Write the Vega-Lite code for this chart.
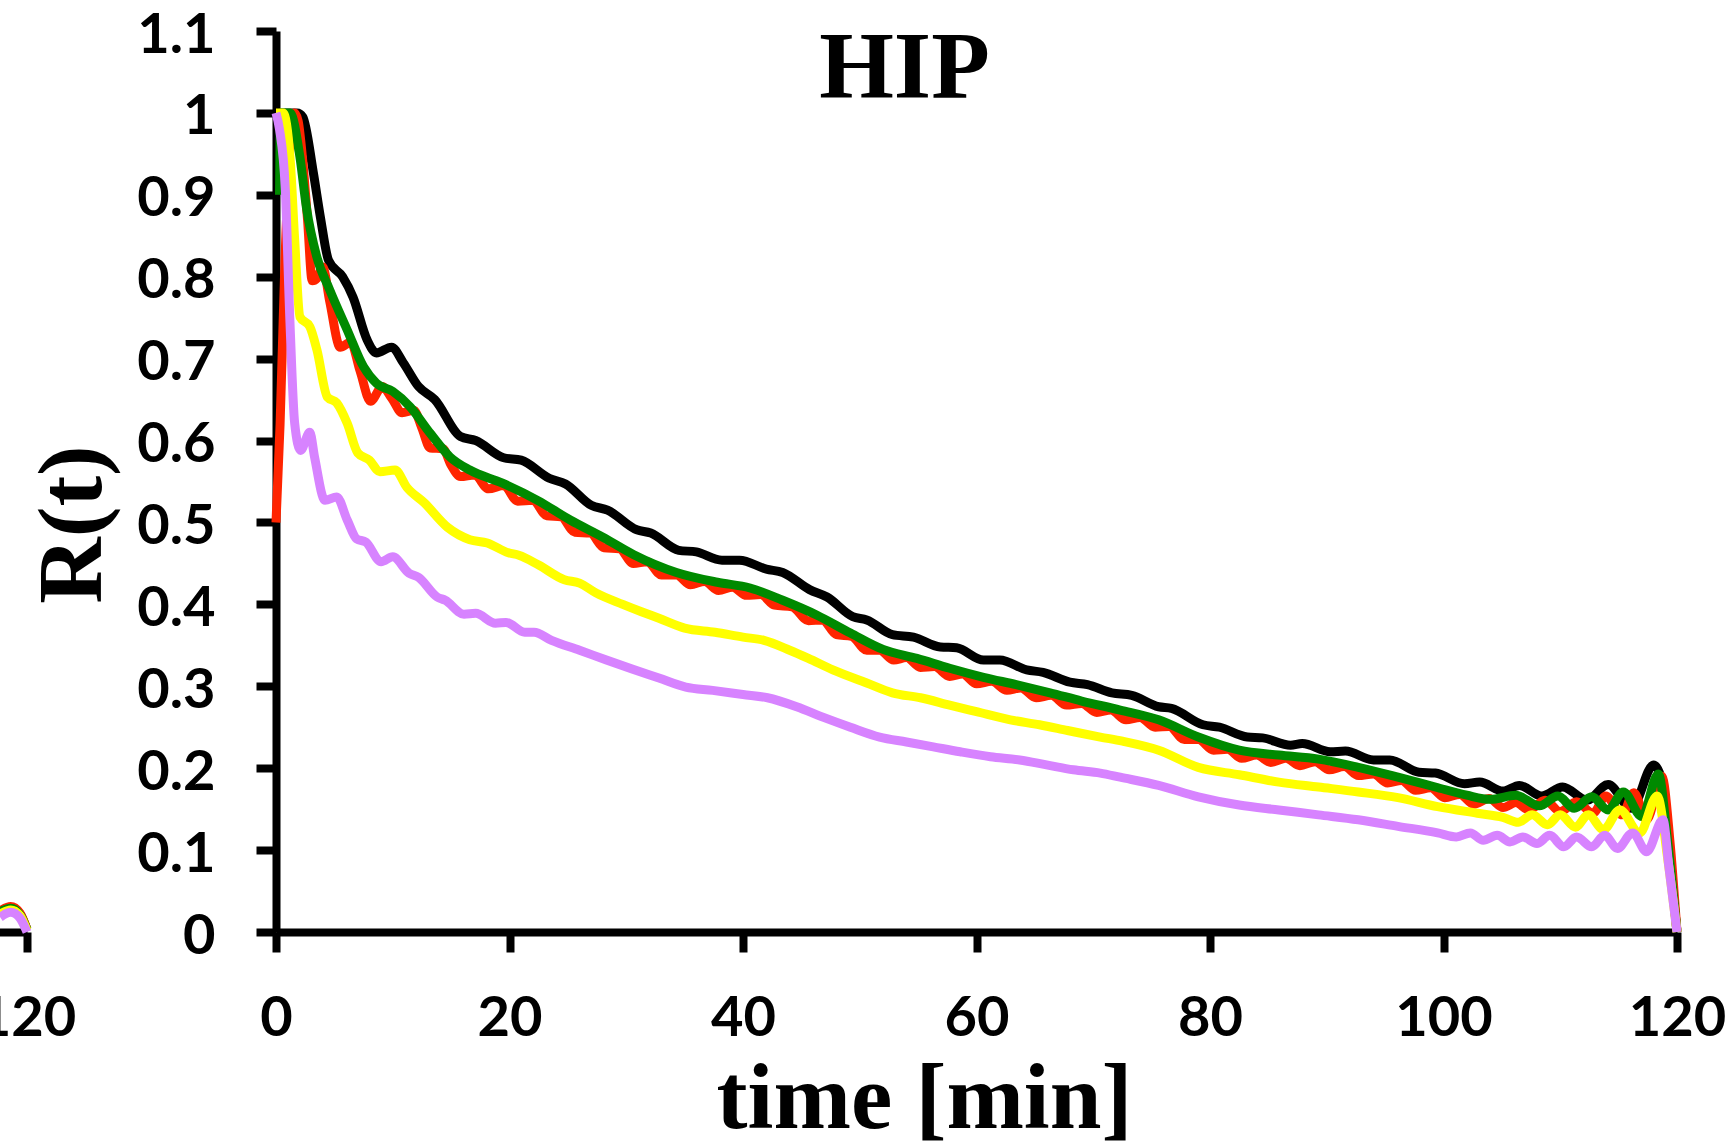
{
  "$schema": "https://vega.github.io/schema/vega-lite/v6.json",
  "width": 1401,
  "height": 901,
  "autosize": {"type": "none"},
  "padding": {"left": 276, "top": 31, "right": 56, "bottom": 215},
  "background": "white",
  "config": {"view": {"stroke": null}},
  "datasets": {
    "main": [
      {"s":"k","t":0,"r":1.0},{"s":"k","t":1.8,"r":1.0},{"s":"k","t":2.3,"r":0.995},{"s":"k","t":3.2,"r":0.927},{"s":"k","t":3.8,"r":0.873},{"s":"k","t":4.5,"r":0.82},{"s":"k","t":5.7,"r":0.8},{"s":"k","t":6.6,"r":0.775},{"s":"k","t":7.8,"r":0.723},{"s":"k","t":8.6,"r":0.707},{"s":"k","t":9.9,"r":0.714},{"s":"k","t":10.9,"r":0.695},{"s":"k","t":12.2,"r":0.666},{"s":"k","t":13.6,"r":0.65},{"s":"k","t":15.8,"r":0.605},{"s":"k","t":17.1,"r":0.6},{"s":"k","t":19.5,"r":0.579},{"s":"k","t":21.0,"r":0.576},{"s":"k","t":23.4,"r":0.554},{"s":"k","t":24.8,"r":0.547},{"s":"k","t":27.0,"r":0.521},{"s":"k","t":28.4,"r":0.515},{"s":"k","t":30.9,"r":0.491},{"s":"k","t":32.1,"r":0.487},{"s":"k","t":34.5,"r":0.466},{"s":"k","t":36.0,"r":0.464},{"s":"k","t":38.2,"r":0.454},{"s":"k","t":39.7,"r":0.454},{"s":"k","t":42.0,"r":0.443},{"s":"k","t":43.4,"r":0.439},{"s":"k","t":45.7,"r":0.418},{"s":"k","t":47.2,"r":0.409},{"s":"k","t":49.4,"r":0.385},{"s":"k","t":50.6,"r":0.381},{"s":"k","t":52.8,"r":0.363},{"s":"k","t":54.6,"r":0.36},{"s":"k","t":56.9,"r":0.348},{"s":"k","t":58.3,"r":0.347},{"s":"k","t":60.6,"r":0.332},{"s":"k","t":62.0,"r":0.332},{"s":"k","t":64.3,"r":0.32},{"s":"k","t":65.7,"r":0.317},{"s":"k","t":68.0,"r":0.305},{"s":"k","t":69.5,"r":0.302},{"s":"k","t":71.6,"r":0.292},{"s":"k","t":73.3,"r":0.289},{"s":"k","t":75.6,"r":0.275},{"s":"k","t":76.7,"r":0.273},{"s":"k","t":79.4,"r":0.253},{"s":"k","t":80.8,"r":0.25},{"s":"k","t":83.2,"r":0.238},{"s":"k","t":84.5,"r":0.237},{"s":"k","t":86.9,"r":0.228},{"s":"k","t":87.9,"r":0.23},{"s":"k","t":90.3,"r":0.22},{"s":"k","t":91.6,"r":0.221},{"s":"k","t":94.0,"r":0.21},{"s":"k","t":95.4,"r":0.21},{"s":"k","t":97.9,"r":0.195},{"s":"k","t":99.3,"r":0.194},{"s":"k","t":101.8,"r":0.181},{"s":"k","t":103.1,"r":0.183},{"s":"k","t":105.1,"r":0.172},{"s":"k","t":106.5,"r":0.179},{"s":"k","t":108.4,"r":0.166},{"s":"k","t":110.2,"r":0.177},{"s":"k","t":112.3,"r":0.161},{"s":"k","t":114.1,"r":0.18},{"s":"k","t":116.1,"r":0.151},{"s":"k","t":118.0,"r":0.204},{"s":"k","t":118.6,"r":0.19},{"s":"k","t":119.3,"r":0.1},{"s":"k","t":120,"r":0},

      {"s":"r","t":0,"r":0.5},{"s":"r","t":0.35,"r":0.62},{"s":"r","t":0.77,"r":0.82},{"s":"r","t":1.2,"r":0.96},{"s":"r","t":1.6,"r":1.0},{"s":"r","t":1.9,"r":0.99},{"s":"r","t":2.3,"r":0.94},{"s":"r","t":2.7,"r":0.87},{"s":"r","t":3.1,"r":0.795},{"s":"r","t":3.5,"r":0.798},{"s":"r","t":4.0,"r":0.812},{"s":"r","t":4.6,"r":0.77},{"s":"r","t":5.5,"r":0.714},{"s":"r","t":6.4,"r":0.72},{"s":"r","t":7.2,"r":0.685},{"s":"r","t":8.1,"r":0.648},{"s":"r","t":9.1,"r":0.666},{"s":"r","t":9.9,"r":0.652},{"s":"r","t":10.8,"r":0.634},{"s":"r","t":11.8,"r":0.637},{"s":"r","t":12.5,"r":0.615},{"s":"r","t":13.2,"r":0.591},{"s":"r","t":14.3,"r":0.59},{"s":"r","t":15.0,"r":0.57},{"s":"r","t":15.8,"r":0.556},{"s":"r","t":17.0,"r":0.558},{"s":"r","t":18.2,"r":0.541},{"s":"r","t":19.5,"r":0.545},{"s":"r","t":20.7,"r":0.526},{"s":"r","t":22.0,"r":0.527},{"s":"r","t":23.2,"r":0.508},{"s":"r","t":24.4,"r":0.507},{"s":"r","t":25.6,"r":0.488},{"s":"r","t":26.9,"r":0.487},{"s":"r","t":28.1,"r":0.469},{"s":"r","t":29.4,"r":0.468},{"s":"r","t":30.6,"r":0.45},{"s":"r","t":31.8,"r":0.452},{"s":"r","t":33.0,"r":0.436},{"s":"r","t":34.3,"r":0.436},{"s":"r","t":35.5,"r":0.424},{"s":"r","t":36.7,"r":0.428},{"s":"r","t":37.9,"r":0.417},{"s":"r","t":39.1,"r":0.421},{"s":"r","t":40.3,"r":0.411},{"s":"r","t":41.5,"r":0.412},{"s":"r","t":42.7,"r":0.399},{"s":"r","t":44.2,"r":0.397},{"s":"r","t":45.6,"r":0.38},{"s":"r","t":46.8,"r":0.381},{"s":"r","t":48.0,"r":0.363},{"s":"r","t":49.3,"r":0.361},{"s":"r","t":50.6,"r":0.344},{"s":"r","t":51.7,"r":0.344},{"s":"r","t":52.9,"r":0.332},{"s":"r","t":54.0,"r":0.335},{"s":"r","t":55.2,"r":0.323},{"s":"r","t":56.4,"r":0.324},{"s":"r","t":57.7,"r":0.312},{"s":"r","t":58.8,"r":0.315},{"s":"r","t":60.0,"r":0.303},{"s":"r","t":61.3,"r":0.306},{"s":"r","t":62.6,"r":0.295},{"s":"r","t":63.8,"r":0.298},{"s":"r","t":65.1,"r":0.286},{"s":"r","t":66.4,"r":0.289},{"s":"r","t":67.7,"r":0.277},{"s":"r","t":69.0,"r":0.279},{"s":"r","t":70.3,"r":0.268},{"s":"r","t":71.5,"r":0.271},{"s":"r","t":72.8,"r":0.259},{"s":"r","t":74.0,"r":0.262},{"s":"r","t":75.3,"r":0.25},{"s":"r","t":76.5,"r":0.251},{"s":"r","t":77.8,"r":0.235},{"s":"r","t":79.0,"r":0.235},{"s":"r","t":80.3,"r":0.222},{"s":"r","t":81.5,"r":0.223},{"s":"r","t":82.7,"r":0.212},{"s":"r","t":84.0,"r":0.216},{"s":"r","t":85.2,"r":0.207},{"s":"r","t":86.5,"r":0.212},{"s":"r","t":87.7,"r":0.203},{"s":"r","t":89.0,"r":0.208},{"s":"r","t":90.2,"r":0.198},{"s":"r","t":91.5,"r":0.202},{"s":"r","t":92.7,"r":0.191},{"s":"r","t":94.0,"r":0.193},{"s":"r","t":95.2,"r":0.182},{"s":"r","t":96.4,"r":0.185},{"s":"r","t":97.6,"r":0.173},{"s":"r","t":98.9,"r":0.176},{"s":"r","t":100.1,"r":0.164},{"s":"r","t":101.4,"r":0.168},{"s":"r","t":102.6,"r":0.156},{"s":"r","t":103.9,"r":0.163},{"s":"r","t":105.1,"r":0.152},{"s":"r","t":106.2,"r":0.158},{"s":"r","t":107.3,"r":0.149},{"s":"r","t":108.7,"r":0.161},{"s":"r","t":110.0,"r":0.147},{"s":"r","t":111.4,"r":0.159},{"s":"r","t":112.8,"r":0.145},{"s":"r","t":113.9,"r":0.166},{"s":"r","t":115.3,"r":0.143},{"s":"r","t":116.3,"r":0.17},{"s":"r","t":117.4,"r":0.137},{"s":"r","t":118.7,"r":0.19},{"s":"r","t":119.4,"r":0.11},{"s":"r","t":120,"r":0},

      {"s":"g","t":0.3,"r":0.9},{"s":"g","t":0.4,"r":1.0},{"s":"g","t":1.2,"r":1.0},{"s":"g","t":2.05,"r":0.946},{"s":"g","t":2.6,"r":0.885},{"s":"g","t":3.5,"r":0.824},{"s":"g","t":4.6,"r":0.784},{"s":"g","t":6.1,"r":0.735},{"s":"g","t":7.5,"r":0.69},{"s":"g","t":8.6,"r":0.67},{"s":"g","t":10.0,"r":0.66},{"s":"g","t":11.5,"r":0.641},{"s":"g","t":13.2,"r":0.609},{"s":"g","t":14.9,"r":0.58},{"s":"g","t":16.6,"r":0.564},{"s":"g","t":19.4,"r":0.548},{"s":"g","t":22.4,"r":0.527},{"s":"g","t":25.2,"r":0.503},{"s":"g","t":28.0,"r":0.482},{"s":"g","t":30.6,"r":0.461},{"s":"g","t":34.3,"r":0.439},{"s":"g","t":37.8,"r":0.427},{"s":"g","t":40.6,"r":0.42},{"s":"g","t":43.4,"r":0.405},{"s":"g","t":46.3,"r":0.387},{"s":"g","t":49.2,"r":0.365},{"s":"g","t":52.0,"r":0.345},{"s":"g","t":54.9,"r":0.334},{"s":"g","t":57.7,"r":0.322},{"s":"g","t":60.6,"r":0.311},{"s":"g","t":63.4,"r":0.302},{"s":"g","t":66.3,"r":0.292},{"s":"g","t":69.0,"r":0.282},{"s":"g","t":72.3,"r":0.271},{"s":"g","t":75.6,"r":0.259},{"s":"g","t":79.0,"r":0.238},{"s":"g","t":82.5,"r":0.222},{"s":"g","t":85.9,"r":0.216},{"s":"g","t":89.3,"r":0.211},{"s":"g","t":92.7,"r":0.201},{"s":"g","t":96.1,"r":0.189},{"s":"g","t":99.3,"r":0.177},{"s":"g","t":102.0,"r":0.167},{"s":"g","t":104.0,"r":0.162},{"s":"g","t":106.2,"r":0.167},{"s":"g","t":108.2,"r":0.154},{"s":"g","t":109.8,"r":0.166},{"s":"g","t":111.2,"r":0.151},{"s":"g","t":112.7,"r":0.165},{"s":"g","t":114.1,"r":0.149},{"s":"g","t":115.4,"r":0.171},{"s":"g","t":117.0,"r":0.141},{"s":"g","t":118.4,"r":0.193},{"s":"g","t":119.2,"r":0.11},{"s":"g","t":120,"r":0},

      {"s":"y","t":0,"r":1.0},{"s":"y","t":0.6,"r":1.0},{"s":"y","t":1.2,"r":0.946},{"s":"y","t":1.6,"r":0.845},{"s":"y","t":2.05,"r":0.751},{"s":"y","t":2.9,"r":0.739},{"s":"y","t":3.5,"r":0.711},{"s":"y","t":4.4,"r":0.653},{"s":"y","t":5.2,"r":0.646},{"s":"y","t":6.1,"r":0.621},{"s":"y","t":7.0,"r":0.585},{"s":"y","t":8.0,"r":0.576},{"s":"y","t":8.9,"r":0.562},{"s":"y","t":10.2,"r":0.564},{"s":"y","t":11.2,"r":0.543},{"s":"y","t":12.7,"r":0.524},{"s":"y","t":14.7,"r":0.494},{"s":"y","t":16.6,"r":0.479},{"s":"y","t":18.1,"r":0.475},{"s":"y","t":19.9,"r":0.463},{"s":"y","t":20.8,"r":0.46},{"s":"y","t":22.5,"r":0.448},{"s":"y","t":24.7,"r":0.43},{"s":"y","t":26.0,"r":0.426},{"s":"y","t":27.4,"r":0.414},{"s":"y","t":29.7,"r":0.4},{"s":"y","t":31.3,"r":0.391},{"s":"y","t":32.8,"r":0.383},{"s":"y","t":35.0,"r":0.371},{"s":"y","t":37.6,"r":0.366},{"s":"y","t":40.0,"r":0.36},{"s":"y","t":41.8,"r":0.356},{"s":"y","t":44.0,"r":0.344},{"s":"y","t":45.6,"r":0.334},{"s":"y","t":47.7,"r":0.32},{"s":"y","t":50.6,"r":0.304},{"s":"y","t":52.8,"r":0.292},{"s":"y","t":55.2,"r":0.286},{"s":"y","t":57.7,"r":0.277},{"s":"y","t":60.0,"r":0.269},{"s":"y","t":62.9,"r":0.259},{"s":"y","t":65.4,"r":0.253},{"s":"y","t":67.8,"r":0.246},{"s":"y","t":70.6,"r":0.238},{"s":"y","t":72.5,"r":0.233},{"s":"y","t":75.6,"r":0.222},{"s":"y","t":79.0,"r":0.201},{"s":"y","t":82.5,"r":0.192},{"s":"y","t":85.9,"r":0.183},{"s":"y","t":89.3,"r":0.177},{"s":"y","t":92.7,"r":0.171},{"s":"y","t":96.1,"r":0.164},{"s":"y","t":99.5,"r":0.153},{"s":"y","t":102.9,"r":0.145},{"s":"y","t":105.1,"r":0.14},{"s":"y","t":106.4,"r":0.134},{"s":"y","t":107.6,"r":0.143},{"s":"y","t":108.9,"r":0.131},{"s":"y","t":110.0,"r":0.143},{"s":"y","t":111.3,"r":0.128},{"s":"y","t":112.4,"r":0.143},{"s":"y","t":113.7,"r":0.125},{"s":"y","t":115.1,"r":0.149},{"s":"y","t":116.8,"r":0.121},{"s":"y","t":118.3,"r":0.166},{"s":"y","t":119.2,"r":0.09},{"s":"y","t":120,"r":0},

      {"s":"v","t":0,"r":1.0},{"s":"v","t":0.3,"r":0.98},{"s":"v","t":0.8,"r":0.906},{"s":"v","t":1.2,"r":0.743},{"s":"v","t":1.6,"r":0.621},{"s":"v","t":2.1,"r":0.588},{"s":"v","t":2.9,"r":0.61},{"s":"v","t":3.3,"r":0.58},{"s":"v","t":4.2,"r":0.527},{"s":"v","t":5.2,"r":0.531},{"s":"v","t":6.1,"r":0.503},{"s":"v","t":6.9,"r":0.48},{"s":"v","t":7.7,"r":0.476},{"s":"v","t":9.0,"r":0.452},{"s":"v","t":10.0,"r":0.458},{"s":"v","t":11.4,"r":0.438},{"s":"v","t":12.2,"r":0.433},{"s":"v","t":13.8,"r":0.409},{"s":"v","t":14.5,"r":0.405},{"s":"v","t":16.1,"r":0.388},{"s":"v","t":17.1,"r":0.389},{"s":"v","t":18.8,"r":0.377},{"s":"v","t":19.7,"r":0.378},{"s":"v","t":21.3,"r":0.366},{"s":"v","t":22.1,"r":0.366},{"s":"v","t":23.6,"r":0.356},{"s":"v","t":26.0,"r":0.344},{"s":"v","t":28.3,"r":0.332},{"s":"v","t":30.5,"r":0.321},{"s":"v","t":32.8,"r":0.31},{"s":"v","t":35.1,"r":0.299},{"s":"v","t":37.4,"r":0.295},{"s":"v","t":40.0,"r":0.29},{"s":"v","t":42.1,"r":0.286},{"s":"v","t":44.6,"r":0.275},{"s":"v","t":46.9,"r":0.262},{"s":"v","t":49.2,"r":0.25},{"s":"v","t":51.7,"r":0.238},{"s":"v","t":54.0,"r":0.232},{"s":"v","t":56.3,"r":0.226},{"s":"v","t":58.6,"r":0.22},{"s":"v","t":61.2,"r":0.214},{"s":"v","t":63.7,"r":0.21},{"s":"v","t":66.0,"r":0.204},{"s":"v","t":68.3,"r":0.198},{"s":"v","t":70.6,"r":0.194},{"s":"v","t":72.3,"r":0.189},{"s":"v","t":75.6,"r":0.179},{"s":"v","t":79.0,"r":0.165},{"s":"v","t":82.5,"r":0.155},{"s":"v","t":85.9,"r":0.149},{"s":"v","t":89.3,"r":0.143},{"s":"v","t":92.7,"r":0.137},{"s":"v","t":96.1,"r":0.129},{"s":"v","t":99.5,"r":0.121},{"s":"v","t":101.1,"r":0.116},{"s":"v","t":102.3,"r":0.121},{"s":"v","t":103.4,"r":0.112},{"s":"v","t":104.6,"r":0.118},{"s":"v","t":105.7,"r":0.11},{"s":"v","t":106.8,"r":0.116},{"s":"v","t":108.0,"r":0.108},{"s":"v","t":109.1,"r":0.118},{"s":"v","t":110.3,"r":0.104},{"s":"v","t":111.4,"r":0.116},{"s":"v","t":112.7,"r":0.104},{"s":"v","t":113.8,"r":0.118},{"s":"v","t":114.9,"r":0.102},{"s":"v","t":116.2,"r":0.121},{"s":"v","t":117.4,"r":0.098},{"s":"v","t":118.8,"r":0.137},{"s":"v","t":119.3,"r":0.08},{"s":"v","t":120,"r":0}
    ],
    "frag": [
      {"s":"k","t":117.7,"r":0.024},{"s":"k","t":118.6,"r":0.03},{"s":"k","t":119.4,"r":0.022},{"s":"k","t":120,"r":0.003},
      {"s":"r","t":117.7,"r":0.026},{"s":"r","t":118.6,"r":0.031},{"s":"r","t":119.4,"r":0.023},{"s":"r","t":120,"r":0.003},
      {"s":"g","t":117.7,"r":0.025},{"s":"g","t":118.6,"r":0.029},{"s":"g","t":119.4,"r":0.021},{"s":"g","t":120,"r":0.003},
      {"s":"y","t":117.7,"r":0.022},{"s":"y","t":118.6,"r":0.027},{"s":"y","t":119.4,"r":0.02},{"s":"y","t":120,"r":0.002},
      {"s":"v","t":117.7,"r":0.018},{"s":"v","t":118.6,"r":0.024},{"s":"v","t":119.4,"r":0.017},{"s":"v","t":120,"r":0.0}
    ]
  },
  "encoding": {
    "y": {"field": "r", "type": "quantitative",
      "scale": {"domain": [0, 1.1], "nice": false, "zero": true},
      "axis": {"values": [0,0.1,0.2,0.3,0.4,0.5,0.6,0.7,0.8,0.9,1,1.1], "format": "~g", "grid": false,
        "domain": true, "domainColor": "black", "domainWidth": 8,
        "ticks": true, "tickColor": "black", "tickWidth": 8, "tickSize": 20,
        "labelFont": "Lato", "labelFontWeight": "bold", "labelFontSize": 56, "labelColor": "black", "labelPadding": 41, "labelOffset": 4,
        "title": "R(t)", "titleFont": "Liberation Serif", "titleFontWeight": "bold", "titleFontSize": 92, "titleColor": "black",
        "titleAngle": 270, "titleAlign": "center", "titleBaseline": "alphabetic", "titleX": -176, "titleY": 493}}
  },
  "layer": [
    {
      "data": {"name": "main"},
      "encoding": {
        "x": {"field": "t", "type": "quantitative",
          "scale": {"domain": [0, 120], "nice": false},
          "axis": {"values": [0,20,40,60,80,100,120], "format": "d", "grid": false,
            "domain": true, "domainColor": "black", "domainWidth": 8,
            "ticks": true, "tickColor": "black", "tickWidth": 8, "tickSize": 20,
            "labelFont": "Lato", "labelFontWeight": "bold", "labelFontSize": 56, "labelColor": "black", "labelPadding": 39, "labelFlush": false, "labelOverlap": false,
            "title": "time [min]", "titleFont": "Liberation Serif", "titleFontWeight": "bold", "titleFontSize": 93, "titleColor": "black",
            "titleAlign": "center", "titleBaseline": "alphabetic", "titleX": 648, "titleY": 195}}
      },
      "layer": [
        {"transform": [{"filter": "datum.s == 'k'"}], "mark": {"type": "line", "color": "#000000", "strokeWidth": 9, "interpolate": "monotone"}, "encoding": {}},
        {"transform": [{"filter": "datum.s == 'r'"}], "mark": {"type": "line", "color": "#ff2400", "strokeWidth": 9, "interpolate": "monotone"}, "encoding": {}},
        {"transform": [{"filter": "datum.s == 'g'"}], "mark": {"type": "line", "color": "#008a00", "strokeWidth": 9, "interpolate": "monotone"}, "encoding": {}},
        {"transform": [{"filter": "datum.s == 'y'"}], "mark": {"type": "line", "color": "#ffff00", "strokeWidth": 9, "interpolate": "monotone"}, "encoding": {}},
        {"transform": [{"filter": "datum.s == 'v'"}], "mark": {"type": "line", "color": "#d783ff", "strokeWidth": 9, "interpolate": "monotone"}, "encoding": {}}
      ]
    },
    {
      "data": {"name": "frag"},
      "mark": {"type": "line", "strokeWidth": 9, "interpolate": "monotone", "clip": false},
      "encoding": {
        "x": {"field": "t", "type": "quantitative",
          "scale": {"domain": [0, 120], "range": [-1650, -249], "nice": false},
          "axis": {"orient": "bottom", "values": [120], "format": "d", "grid": false,
            "domain": true, "domainColor": "black", "domainWidth": 8,
            "ticks": true, "tickColor": "black", "tickWidth": 8, "tickSize": 20,
            "labelFont": "Lato", "labelFontWeight": "bold", "labelFontSize": 56, "labelColor": "black", "labelPadding": 39, "labelFlush": false, "labelOverlap": false,
            "title": "HIP", "titleFont": "Liberation Serif", "titleFontWeight": "bold", "titleFontSize": 96, "titleColor": "black",
            "titleAlign": "center", "titleBaseline": "alphabetic", "titleX": 628, "titleY": -835}},
        "color": {"field": "s", "type": "nominal",
          "scale": {"domain": ["k","r","g","y","v"], "range": ["#000000","#ff2400","#008a00","#ffff00","#d783ff"]},
          "legend": null}
      }
    }
  ],
  "resolve": {"scale": {"x": "independent", "color": "independent"}, "axis": {"x": "independent"}}
}
